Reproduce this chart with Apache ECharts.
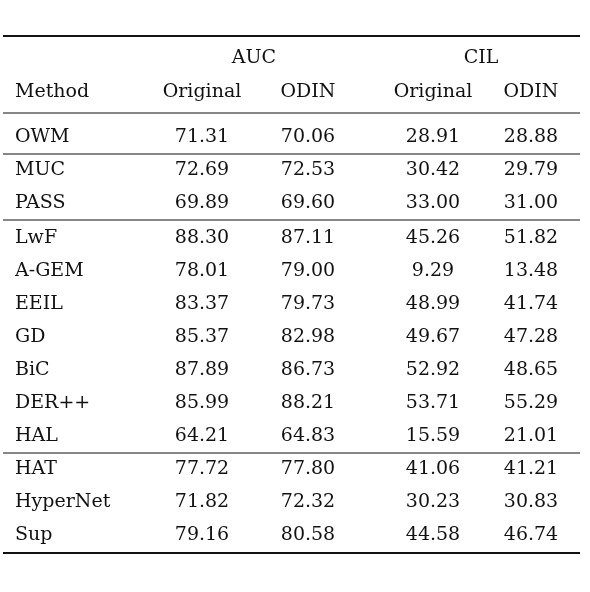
<!DOCTYPE html>
<html>
<head>
<meta charset="utf-8">
<script src="https://cdn.jsdelivr.net/npm/echarts@6/dist/echarts.min.js"></script>
<style>html,body{margin:0;background:#fff}#c{width:590px;height:592px}</style>
</head>
<body>
<div id="c"></div>
<script>
// table data
const groups = ['AUC', 'CIL']
const subCols = ['Original', 'ODIN', 'Original', 'ODIN']
const methods = ['OWM', 'MUC', 'PASS', 'LwF', 'A-GEM', 'EEIL', 'GD', 'BiC', 'DER++', 'HAL', 'HAT', 'HyperNet', 'Sup']
const aucOriginal = ['71.31', '72.69', '69.89', '88.30', '78.01', '83.37', '85.37', '87.89', '85.99', '64.21', '77.72', '71.82', '79.16']
const aucOdin = ['70.06', '72.53', '69.60', '87.11', '79.00', '79.73', '82.98', '86.73', '88.21', '64.83', '77.80', '72.32', '80.58']
const cilOriginal = ['28.91', '30.42', '33.00', '45.26', '9.29', '48.99', '49.67', '52.92', '53.71', '15.59', '41.06', '30.23', '44.58']
const cilOdin = ['28.88', '29.79', '31.00', '51.82', '13.48', '41.74', '47.28', '48.65', '55.29', '21.01', '41.21', '30.83', '46.74']
const groupEnds = [0, 2, 9] // rule after these rows

const font = '"DejaVu Serif", "Liberation Serif", serif'
const fs = 19
const colX = [202, 308, 433, 531]
const rowY = [137, 170, 203, 238, 271, 304, 337, 370, 403, 436, 469, 502, 535]

const els = []
const text = (t, x, y, align) => els.push({
  type: 'text', x, y,
  style: { text: t, font: fs + 'px ' + font, fill: '#111', textAlign: align || 'center', textVerticalAlign: 'middle' }
})
const rule = (y, w) => els.push({
  type: 'line', shape: { x1: 3, y1: y, x2: 580, y2: y }, style: { stroke: '#111', lineWidth: w }
})

rule(36, 2.2)
text(groups[0], 254, 58)
text(groups[1], 481, 58)
text('Method', 15, 92, 'left')
subCols.forEach((c, i) => text(c, colX[i], 92))
rule(113, 1.2)
methods.forEach((m, i) => {
  text(m, 15, rowY[i], 'left')
  ;[aucOriginal, aucOdin, cilOriginal, cilOdin].forEach((arr, j) => text(arr[i], colX[j], rowY[i]))
})
groupEnds.forEach(i => rule(rowY[i] + 17, 1.2))
rule(553, 2.2)

const chart = echarts.init(document.getElementById('c'))
chart.setOption({ animation: false, graphic: { elements: els } })
</script>
</body>
</html>
